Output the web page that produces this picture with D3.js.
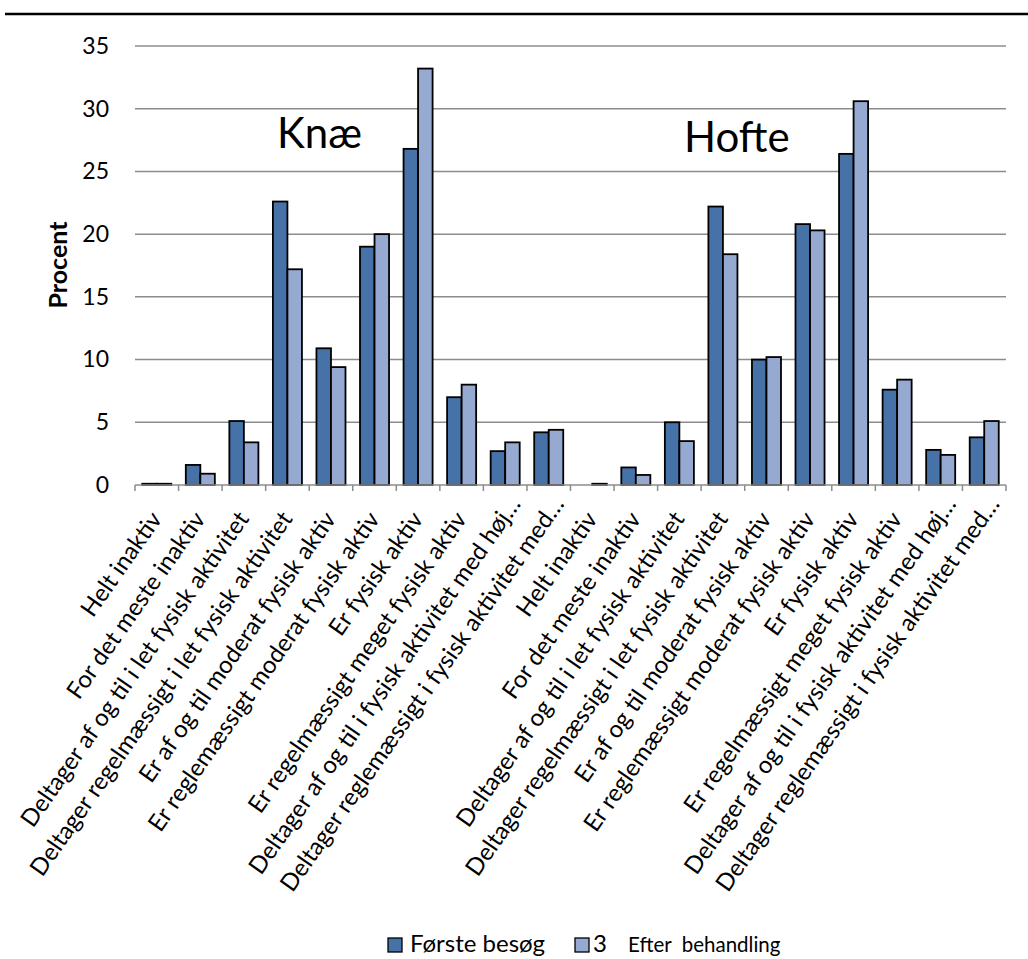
<!DOCTYPE html>
<html>
<head>
<meta charset="utf-8">
<script src="https://cdn.jsdelivr.net/npm/d3@7"></script>
<style>
  html, body { margin: 0; padding: 0; background: #fff; }
  svg { display: block; font-family: Lato, "Open Sans", sans-serif; }
</style>
</head>
<body>
<svg id="chart" width="1028" height="959"></svg>
<script>
// Activity level categories, repeated for each joint group
const activityLevels = [
  "Helt inaktiv",
  "For det meste inaktiv",
  "Deltager af og til i let fysisk aktivitet",
  "Deltager regelmæssigt i let fysisk aktivitet",
  "Er af og til moderat fysisk aktiv",
  "Er reglemæssigt moderat fysisk aktiv",
  "Er fysisk aktiv",
  "Er regelmæssigt meget fysisk aktiv",
  "Deltager af og til i fysisk aktivitet med høj…",
  "Deltager reglemæssigt i fysisk aktivitet med…"
];
const groups = ["Knæ", "Hofte"];

// Percent per category: Knæ (10 values) followed by Hofte (10 values)
const firstVisit = [0.1, 1.6, 5.1, 22.6, 10.9, 19.0, 26.8, 7.0, 2.7, 4.2,
                    0.0, 1.4, 5.0, 22.2, 10.0, 20.8, 26.4, 7.6, 2.8, 3.8];
const afterTreatment = [0.1, 0.9, 3.4, 17.2, 9.4, 20.0, 33.2, 8.0, 3.4, 4.4,
                        0.1, 0.8, 3.5, 18.4, 10.2, 20.3, 30.6, 8.4, 2.4, 5.1];

const yTicks = [0, 5, 10, 15, 20, 25, 30, 35];
const seriesKeys = ["first", "after"];
const seriesColors = ["#4672A8", "#95A9D1"];

const svg = d3.select("#chart");
const plotLeft = 135, plotRight = 1006, plotTop = 46, plotBottom = 485;

// one row per bar position: both groups side by side
const rows = [];
groups.forEach((g, gi) => {
  activityLevels.forEach((label, li) => {
    const i = gi * activityLevels.length + li;
    rows.push({ id: i, label, first: firstVisit[i], after: afterTreatment[i] });
  });
});

const x = d3.scaleBand().domain(rows.map(d => d.id)).range([plotLeft, plotRight]).padding(0);
const xInner = d3.scaleBand().domain(seriesKeys).range([0, x.bandwidth()])
  .paddingInner(0).paddingOuter(0.5);
const y = d3.scaleLinear().domain([0, 35]).range([plotBottom, plotTop]);

// top rule
svg.append("line")
  .attr("x1", 5).attr("x2", 1028).attr("y1", 14).attr("y2", 14)
  .attr("stroke", "#000").attr("stroke-width", 2.5);

// horizontal gridlines
svg.append("g").selectAll("line").data(yTicks.filter(t => t > 0)).join("line")
  .attr("x1", plotLeft).attr("x2", plotRight)
  .attr("y1", d => y(d)).attr("y2", d => y(d))
  .attr("stroke", "#8c8c8c").attr("stroke-width", 1.5);

// y axis labels
const yAxis = d3.axisLeft(y).tickValues(yTicks).tickSize(0).tickPadding(26);
const yg = svg.append("g").attr("transform", `translate(${plotLeft},0)`).call(yAxis);
yg.select(".domain").remove();
yg.selectAll("text").attr("font-size", 23).attr("fill", "#000")
  .attr("font-family", "Lato, 'Open Sans', sans-serif");

svg.append("text")
  .attr("transform", `translate(67,265) rotate(-90)`)
  .attr("text-anchor", "middle")
  .attr("font-size", 25).attr("font-weight", "bold")
  .text("Procent");

// bars
const barG = svg.append("g");
rows.forEach(d => {
  seriesKeys.forEach((k, si) => {
    const v = d[k];
    barG.append("rect")
      .attr("x", x(d.id) + xInner(k))
      .attr("y", y(v))
      .attr("width", xInner.bandwidth())
      .attr("height", Math.max(0, y(0) - y(v)))
      .attr("fill", seriesColors[si])
      .attr("stroke", "#000").attr("stroke-width", 1.8);
  });
});

// x axis with category boundary ticks
const xAxisG = svg.append("g");
xAxisG.append("line")
  .attr("x1", plotLeft).attr("x2", plotRight).attr("y1", plotBottom).attr("y2", plotBottom)
  .attr("stroke", "#8c8c8c").attr("stroke-width", 1.5);
xAxisG.selectAll("line.tick").data(d3.range(rows.length + 1)).join("line")
  .attr("class", "tick")
  .attr("x1", i => plotLeft + i * x.step()).attr("x2", i => plotLeft + i * x.step())
  .attr("y1", plotBottom).attr("y2", plotBottom + 6)
  .attr("stroke", "#8c8c8c").attr("stroke-width", 1.5);

// rotated category labels (truncated ones sit a little further along the slope)
svg.append("g").selectAll("text").data(rows).join("text")
  .attr("transform", d => `translate(${x(d.id) + x.bandwidth() / 2 + 6},${plotBottom + 34}) rotate(-55)`)
  .attr("text-anchor", "end")
  .attr("dx", d => d.label.endsWith("…") ? 18 : 0)
  .attr("font-size", 24)
  .text(d => d.label);

// group titles
svg.append("text").attr("x", 277).attr("y", 148).attr("font-size", 42).text(groups[0]);
svg.append("text").attr("x", 684).attr("y", 152).attr("font-size", 42).text(groups[1]);

// legend
const legend = svg.append("g");
legend.append("rect").attr("x", 388).attr("y", 938).attr("width", 14).attr("height", 14)
  .attr("fill", seriesColors[0]).attr("stroke", "#000").attr("stroke-width", 1.3);
legend.append("text").attr("x", 410).attr("y", 952).attr("font-size", 24).text("Første besøg");
legend.append("rect").attr("x", 575).attr("y", 938).attr("width", 14).attr("height", 14)
  .attr("fill", seriesColors[1]).attr("stroke", "#000").attr("stroke-width", 1.3);
legend.append("text").attr("x", 593).attr("y", 952).attr("font-size", 24).text("3");
legend.append("text").attr("x", 628).attr("y", 952).attr("font-size", 20.5)
  .attr("xml:space", "preserve").style("white-space", "pre").text("Efter  behandling");
</script>
</body>
</html>
